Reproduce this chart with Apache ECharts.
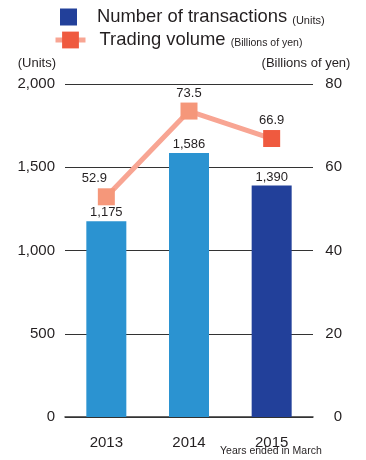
<!DOCTYPE html>
<html>
<head>
<meta charset="utf-8">
<script src="https://cdn.jsdelivr.net/npm/echarts@6/dist/echarts.min.js"></script>
<style>html,body{margin:0;padding:0;background:#fff}#c{width:366px;height:460px}</style>
</head>
<body>
<div id="c"></div>
<script>
const categories = ['2013', '2014', '2015'];
const transactions = [1175, 1586, 1390];
const tradingVolume = [52.9, 73.5, 66.9];
const leftTicks = { min: 0, max: 2000, interval: 500 };
const rightTicks = { min: 0, max: 80, interval: 20 };

const FONT = '"Liberation Sans", Arial, Helvetica, sans-serif';
const TXT = '#231f20';
const LIGHT_BLUE = '#2b93d1';
const DARK_BLUE = '#22409a';
const LINE_COLOR = '#f8a593';
const MARK_LIGHT = '#f5977a';
const MARK_RED = '#ef5a3f';
const fmt = v => Number(v).toLocaleString('en-US');

const chart = echarts.init(document.getElementById('c'), null, { renderer: 'canvas' });
chart.setOption({
  animation: false,
  textStyle: { fontFamily: FONT, color: TXT },
  grid: { left: 65, right: 53, top: 84, bottom: 43, containLabel: false },
  legend: [
    {
      data: [{ name: 'Number of transactions', icon: 'rect', itemStyle: { color: DARK_BLUE } }],
      left: 60, top: 8, padding: 0, itemWidth: 17, itemHeight: 17,
      selectedMode: false,
      formatter: n => '{sp|}' + n + ' {s|(Units)}',
      textStyle: { fontSize: 18.4, color: TXT, fontFamily: FONT,
        rich: { sp: { width: 15 }, s: { fontSize: 11, color: TXT, fontFamily: FONT, verticalAlign: 'bottom', padding: [4, 0, 0, 0] } } }
    },
    {
      data: [{ name: 'Trading volume', itemStyle: { color: MARK_RED } }],
      left: 53, top: 31, padding: 0, itemWidth: 30, itemHeight: 21,
      selectedMode: false,
      lineStyle: { color: LINE_COLOR, width: 5 },
      formatter: n => '{sp|}' + n + ' {s|(Billions of yen)}',
      textStyle: { fontSize: 18.4, color: TXT, fontFamily: FONT,
        rich: { sp: { width: 9 }, s: { fontSize: 10.5, color: TXT, fontFamily: FONT, verticalAlign: 'bottom', padding: [4, 0, 0, 0] } } }
    }
  ],
  xAxis: {
    type: 'category',
    data: categories,
    axisTick: { show: false },
    axisLine: { lineStyle: { color: '#333', width: 1.5 } },
    axisLabel: { fontSize: 15, color: TXT, margin: 18, fontFamily: FONT }
  },
  yAxis: [
    {
      type: 'value', min: leftTicks.min, max: leftTicks.max, interval: leftTicks.interval,
      name: '(Units)', nameLocation: 'end', nameGap: 14,
      nameTextStyle: { fontSize: 13, color: TXT, align: 'right', padding: [0, 9, 0, 0], fontFamily: FONT },
      axisLine: { show: false }, axisTick: { show: false },
      splitLine: { lineStyle: { color: '#333', width: 1.2 } },
      axisLabel: { fontSize: 15, color: TXT, margin: 10, formatter: fmt, fontFamily: FONT }
    },
    {
      type: 'value', min: rightTicks.min, max: rightTicks.max, interval: rightTicks.interval,
      name: '(Billions of yen)', nameLocation: 'end', nameGap: 14,
      nameTextStyle: { fontSize: 13, color: TXT, align: 'center', padding: [0, 14, 0, 0], fontFamily: FONT },
      axisLine: { show: false }, axisTick: { show: false },
      splitLine: { show: false },
      axisLabel: { fontSize: 15, color: TXT, margin: 29, align: 'right', fontFamily: FONT }
    }
  ],
  series: [
    {
      name: 'Number of transactions',
      type: 'bar',
      barWidth: 40,
      data: transactions.map((v, i) => ({ value: v, itemStyle: { color: i === 2 ? DARK_BLUE : LIGHT_BLUE } })),
      itemStyle: { color: LIGHT_BLUE },
      label: { show: true, position: 'top', distance: 2, fontSize: 13, color: TXT, formatter: p => fmt(p.value), fontFamily: FONT }
    },
    {
      name: 'Trading volume',
      type: 'line',
      yAxisIndex: 1,
      symbol: 'rect',
      symbolSize: 17,
      lineStyle: { color: LINE_COLOR, width: 5 },
      itemStyle: { color: MARK_LIGHT },
      data: tradingVolume.map((v, i) => ({
        value: v,
        itemStyle: { color: i === 2 ? MARK_RED : MARK_LIGHT },
        label: i === 0 ? { offset: [-12, 0] } : {}
      })),
      label: { show: true, position: 'top', distance: 3, fontSize: 13, color: TXT, formatter: p => p.value.toFixed(1), fontFamily: FONT },
      z: 3
    }
  ],
  graphic: [
    { type: 'text', left: 220, top: 446, style: { text: 'Years ended in March', fontSize: 10.5, fill: TXT, fontFamily: FONT } }
  ]
});
</script>
</body>
</html>
